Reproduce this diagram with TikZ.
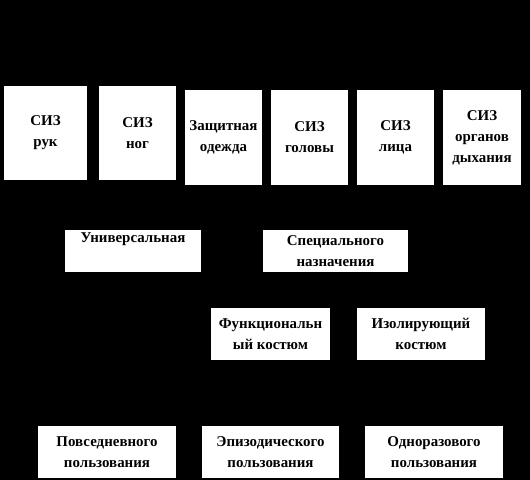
\documentclass[tikz,border=0pt]{standalone}
\usepackage{fontspec}
\setmainfont{Liberation Serif}
\usetikzlibrary{positioning}

\tikzset{
  sizbox/.style={fill=white, inner sep=0pt, align=center,
    font=\bfseries\fontsize{15}{21}\selectfont},
  tallbox/.style={sizbox, minimum width=77bp, minimum height=95bp},
  widebox/.style={sizbox, minimum width=137bp, minimum height=52bp}
}

\begin{document}
\begin{tikzpicture}[x=1bp,y=-1bp]
  % black ground
  \fill[black] (0,0) rectangle (530,480);
  \useasboundingbox (0,0) rectangle (530,480);
  % first row
  \node[tallbox, minimum width=83bp, minimum height=94bp] (ruk) at (45.5,133) {СИЗ\\рук};
  \node[tallbox, minimum height=94bp] (nog) at (137.5,133) {СИЗ\\ног};
  \node[tallbox] (odezhda) at (223.5,137.5) {Защитная\\одежда};
  \node[tallbox] (golova) at (309.5,137.5) {СИЗ\\головы};
  \node[tallbox] (lico) at (395.5,137.5) {СИЗ\\лица};
  \node[tallbox, minimum width=78bp] (dyh) at (482,137.5) {СИЗ\\органов\\дыхания};
  % second row
  \node[widebox, minimum width=136bp, minimum height=42bp] (univ) at (133,251) {Универсальная\\\strut};
  \node[widebox, minimum width=145bp, minimum height=42bp] (spec) at (335.5,251) {Специального\\назначения};
  % third row
  \node[widebox, minimum width=119bp] (funk) at (270.5,334) {Функциональн\\ый костюм};
  \node[widebox, minimum width=128bp] (izol) at (421,334) {Изолирующий\\костюм};
  % fourth row
  \node[widebox] (povs) at (107,452) {Повседневного\\пользования};
  \node[widebox] (epiz) at (270.5,452) {Эпизодического\\пользования};
  \node[widebox, minimum width=138bp] (odnor) at (434,452) {Одноразового\\пользования};
\end{tikzpicture}
\end{document}
